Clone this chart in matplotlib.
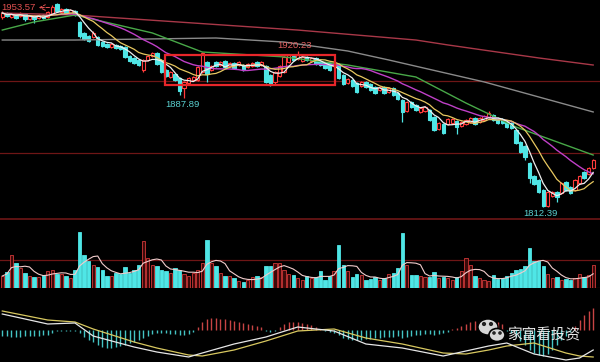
import numpy as np
import pandas as pd
import matplotlib
matplotlib.use("Agg")
import matplotlib.pyplot as plt
from matplotlib.patches import Rectangle, Ellipse, Circle

plt.rcParams["font.family"] = ["Liberation Sans", "DejaVu Sans"]

# ============ Data ============
opens = [1943.8, 1946.6, 1943.8, 1945.9, 1944.5, 1945.9, 1942.5, 1944.5, 1943.1, 1945.2,
         1943.8, 1945.9, 1952.8, 1947.3, 1949.4, 1946.6, 1948.0, 1940.4, 1932.8, 1930.7,
         1930.0, 1930.0, 1926.5, 1925.2, 1923.1, 1924.5, 1923.8, 1923.1, 1916.8, 1915.5,
         1914.1, 1907.2, 1914.1, 1916.8, 1918.9, 1914.1, 1907.2, 1902.3, 1904.4, 1901.6,
         1894.7, 1898.2, 1900.2, 1900.2, 1905.8, 1912.7, 1907.2, 1912.7, 1910.6, 1913.4,
         1909.9, 1912.0, 1910.6, 1910.6, 1909.2, 1909.9, 1912.7, 1910.6, 1909.9, 1903.7,
         1898.9, 1903.0, 1905.8, 1912.7, 1916.8, 1914.8, 1913.4, 1916.2, 1913.4, 1915.5,
         1913.4, 1912.0, 1912.0, 1909.9, 1911.3, 1903.7, 1898.2, 1900.2, 1898.2, 1896.1,
         1898.9, 1897.5, 1895.4, 1893.3, 1895.4, 1891.9, 1894.7, 1891.2, 1886.4, 1878.8,
         1885.0, 1883.0, 1878.1, 1878.8, 1879.5, 1874.6, 1866.3, 1869.8, 1869.8, 1870.5,
         1871.9, 1868.4, 1869.8, 1871.2, 1873.9, 1871.2, 1872.6, 1874.6, 1876.0, 1873.9,
         1873.3, 1871.2, 1870.5, 1865.7, 1857.3, 1854.6, 1842.8, 1833.8, 1831.0, 1824.1,
         1813.0, 1820.0, 1822.7, 1822.0, 1829.7, 1826.2, 1824.1, 1829.0, 1836.6, 1835.2,
         1839.3]
closes = [1946.6, 1944.5, 1945.9, 1943.1, 1946.6, 1942.5, 1944.5, 1942.5, 1945.2, 1943.1,
          1947.3, 1950.8, 1948.0, 1949.4, 1946.6, 1948.7, 1945.2, 1930.7, 1928.6, 1927.2,
          1932.8, 1924.5, 1923.8, 1923.1, 1925.2, 1922.4, 1921.7, 1916.2, 1913.4, 1912.0,
          1910.6, 1914.1, 1916.8, 1919.0, 1911.3, 1905.8, 1903.0, 1905.8, 1900.2, 1892.6,
          1898.9, 1901.6, 1902.3, 1909.2, 1918.9, 1904.4, 1909.9, 1909.9, 1912.7, 1909.2,
          1912.0, 1908.5, 1912.7, 1907.2, 1911.3, 1912.0, 1909.9, 1912.7, 1898.9, 1897.5,
          1905.8, 1909.9, 1916.2, 1917.5, 1914.1, 1917.5, 1916.2, 1914.1, 1915.5, 1911.3,
          1910.6, 1908.5, 1907.2, 1912.0, 1901.6, 1897.5, 1900.9, 1896.1, 1891.9, 1898.9,
          1895.4, 1893.3, 1891.2, 1895.4, 1891.2, 1894.7, 1889.9, 1887.1, 1878.1, 1885.0,
          1881.6, 1879.5, 1880.9, 1881.6, 1872.6, 1865.7, 1870.5, 1863.6, 1873.3, 1873.3,
          1867.7, 1871.2, 1872.6, 1873.9, 1869.8, 1873.9, 1875.3, 1877.4, 1872.6, 1870.5,
          1870.5, 1867.7, 1867.0, 1856.6, 1850.4, 1847.0, 1832.4, 1828.3, 1822.7, 1813.0,
          1822.7, 1822.7, 1819.3, 1829.0, 1824.1, 1822.0, 1831.0, 1833.8, 1832.4, 1839.3,
          1844.9]
highs = [1948.0, 1947.3, 1946.6, 1946.6, 1947.3, 1946.6, 1945.2, 1945.2, 1945.9, 1945.9,
         1948.0, 1952.1, 1953.57, 1950.1, 1950.1, 1949.4, 1948.7, 1941.1, 1933.5, 1931.4,
         1934.2, 1930.7, 1927.2, 1925.8, 1925.8, 1925.2, 1924.5, 1923.8, 1917.5, 1916.2,
         1914.8, 1914.8, 1917.5, 1919.6, 1919.6, 1914.8, 1907.9, 1906.5, 1905.1, 1902.3,
         1899.5, 1902.3, 1903.0, 1909.9, 1919.6, 1913.4, 1910.6, 1913.4, 1913.4, 1914.1,
         1912.7, 1912.7, 1913.4, 1911.3, 1912.0, 1912.7, 1913.4, 1913.4, 1910.6, 1904.4,
         1906.5, 1910.6, 1916.8, 1918.2, 1917.5, 1920.23, 1916.8, 1916.8, 1916.2, 1916.2,
         1914.1, 1912.7, 1912.7, 1912.7, 1912.0, 1904.4, 1901.6, 1900.9, 1898.9, 1899.5,
         1899.5, 1898.2, 1896.1, 1896.1, 1896.1, 1895.4, 1895.4, 1891.9, 1887.1, 1885.7,
         1885.7, 1883.7, 1881.6, 1882.3, 1880.2, 1875.3, 1871.2, 1870.5, 1874.0, 1874.0,
         1872.6, 1871.9, 1873.3, 1874.6, 1874.6, 1874.6, 1876.0, 1878.8, 1876.7, 1874.6,
         1874.0, 1871.9, 1871.2, 1866.3, 1858.0, 1855.3, 1843.5, 1834.5, 1831.7, 1824.8,
         1823.4, 1823.4, 1823.4, 1829.7, 1830.4, 1826.9, 1831.7, 1834.5, 1837.3, 1840.0,
         1845.6]
lows = [1942.5, 1943.8, 1943.1, 1942.5, 1943.8, 1941.1, 1941.8, 1939.7, 1942.5, 1942.5,
        1943.1, 1945.2, 1947.3, 1946.6, 1945.9, 1945.9, 1944.5, 1929.3, 1927.9, 1926.5,
        1929.3, 1923.8, 1923.1, 1922.4, 1922.4, 1921.7, 1921.0, 1915.5, 1912.7, 1911.3,
        1909.9, 1905.8, 1913.4, 1916.2, 1910.6, 1905.1, 1902.3, 1901.6, 1899.5, 1889.9,
        1887.89, 1897.5, 1899.5, 1899.5, 1905.1, 1898.9, 1906.5, 1909.2, 1909.9, 1908.5,
        1909.2, 1907.9, 1909.9, 1906.5, 1908.5, 1909.2, 1909.2, 1909.9, 1898.2, 1896.1,
        1897.5, 1902.3, 1905.1, 1912.0, 1913.4, 1914.1, 1912.7, 1913.4, 1912.7, 1910.6,
        1909.9, 1907.9, 1906.5, 1909.2, 1900.9, 1896.8, 1897.5, 1895.4, 1891.2, 1895.4,
        1894.7, 1892.6, 1890.6, 1892.6, 1890.6, 1891.2, 1889.2, 1886.4, 1871.2, 1878.1,
        1880.9, 1878.8, 1877.4, 1878.1, 1871.9, 1865.0, 1865.7, 1862.9, 1869.1, 1869.8,
        1862.9, 1867.7, 1869.1, 1870.5, 1869.1, 1870.5, 1871.9, 1873.9, 1871.9, 1869.8,
        1869.8, 1867.0, 1866.3, 1855.9, 1849.7, 1844.9, 1829.0, 1827.6, 1822.0, 1812.39,
        1812.4, 1819.3, 1815.8, 1821.3, 1823.4, 1821.3, 1823.4, 1828.3, 1831.7, 1834.5,
        1838.6]
volume = [12, 16, 33, 25, 20, 15, 12, 11, 11, 13, 17, 18, 14, 14, 12, 10, 18, 56, 33, 27,
          23, 21, 18, 12, 12, 15, 14, 21, 15, 18, 23, 47, 30, 23, 22, 18, 17, 15, 20, 18,
          14, 12, 15, 18, 25, 48, 25, 22, 15, 12, 12, 10, 7, 6, 8, 11, 12, 11, 22, 22,
          25, 25, 18, 14, 13, 10, 8, 12, 10, 11, 17, 8, 12, 17, 43, 23, 17, 11, 14, 13,
          8, 9, 11, 8, 10, 14, 15, 20, 55, 23, 13, 13, 12, 11, 11, 16, 10, 11, 10, 8,
          11, 17, 30, 23, 12, 10, 8, 7, 13, 9, 10, 12, 15, 18, 19, 22, 40, 27, 27, 22,
          14, 10, 11, 8, 9, 8, 10, 14, 11, 13, 23]
macd_hist = [-6, -6, -7, -7, -7, -6, -6, -6, -6, -5, -5,
             -3, -1, -1, -1, -1, -1,
             -3, -7, -10, -12, -15, -17, -18, -18, -17, -16, -15, -13, -12, -10, -8,
             -6, -4, -3, -3, -3, -4, -4, -5, -5, -4, -2,
             3, 8, 11, 12, 12, 11, 11, 10, 9, 8, 7, 6, 5, 4, 3,
             -1, -2, -1,
             3, 6, 8, 8, 8, 7, 6, 5,
             3, 1, -1, -2, -3,
             -5, -8, -9, -10, -10, -10, -9, -9, -8, -8, -7, -7, -7, -6, -8, -7, -6, -5, -5,
             -4, -4, -5, -4, -3, -2,
             1, 2, 4, 6, 8, 9, 9, 9, 10, 9, 8, 6,
             -1, -3, -7, -11, -15, -20, -23, -25, -26, -24, -20,
             -15, -10, -6, -2, 4,
             10, 15, 19, 22]
macd_x = [0, 10, 16, 20, 29, 34, 41, 44, 51, 58, 65, 73, 80, 88, 97, 102, 107, 111, 117, 124, 127, 130]
dif = [16, 6, 7, -6, -17, -22, -27, -23, -14, -7, 3, -1, -14, -18, -26, -21, -16, -13, -24, -30, -28, -20]
dea = [19, 10, 8, 1, -12, -18, -25, -26, -20, -11, -1, 1, -8, -14, -23, -24, -20, -16, -13, -23, -26, -27]

ma30_x = [0, 7, 16, 33, 44, 62, 76, 91, 102, 113, 130]
ma30 = [1934.8, 1940.4, 1945.2, 1932.8, 1919.6, 1916.2, 1910.6, 1902.3, 1884.3, 1867.7, 1848.3]
ma120_x = [0, 16, 32, 47, 62, 76, 85, 106, 130]
ma120 = [1927.9, 1927.9, 1928.6, 1929.3, 1926.5, 1920.3, 1914.1, 1898.9, 1878.1]
ma250_x = [0, 16, 32, 65, 91, 98, 118, 130]
ma250 = [1946.6, 1945.2, 1941.8, 1934.8, 1927.9, 1924.5, 1915.5, 1910.6]

RED = "#ff3c3c"
CYAN = "#4fe6e6"
GRID = "#6e1616"

n = len(closes)
idx = np.arange(n)
o = np.array(opens); c = np.array(closes)
up = c >= o

fig = plt.figure(figsize=(6, 3.62), dpi=100, facecolor="black")
H = 362.0
def band(top, bottom):
    return [0, 1 - bottom / H, 1, (bottom - top) / H]
ax = fig.add_axes(band(0, 218))
axv = fig.add_axes(band(218, 288))
axm = fig.add_axes(band(288, 362))
for a in (ax, axv, axm):
    a.set_facecolor("black"); a.set_axis_off(); a.set_xlim(-0.5, n + 0.5)

# ============ Price panel ============
ax.set_ylim(1804.7, 1955.6)
for lvl in (1899.5, 1849.7):
    ax.axhline(lvl, color=GRID, lw=0.9, zorder=1)
ccol = np.where(up, RED, CYAN)
ax.vlines(idx, lows, highs, colors=ccol, lw=0.9, zorder=2)
body_lo = np.minimum(o, c)
body_h = np.maximum(np.abs(c - o), 0.3)
ax.bar(idx, body_h, bottom=body_lo, width=0.74,
       color=np.where(up, "black", CYAN), edgecolor=ccol, lw=0.8, zorder=3)

s = pd.Series(closes)
ax.plot(ma250_x, ma250, color="#a83848", lw=1.0, zorder=4)
ax.plot(ma120_x, ma120, color="#8a8a8a", lw=1.0, zorder=4)
ax.plot(ma30_x, ma30, color="#48a848", lw=1.0, zorder=4)
ax.plot(idx, s.rolling(20, min_periods=1).mean(), color="#c040c8", lw=1.0, zorder=4)
ax.plot(idx, s.rolling(10, min_periods=1).mean(), color="#e8c860", lw=0.9, zorder=4)
ax.plot(idx, s.rolling(5, min_periods=1).mean(), color="#eeeeee", lw=0.9, zorder=4)

ax.add_patch(Rectangle((35.8, 1896.8), 37.4, 20.7, fill=False, ec="#e8262a", lw=1.6, zorder=6))

ax.text(-0.3, 1950.4, "1953.57", color="#e05050", fontsize=6.8, va="center", ha="left", zorder=7)
ax.annotate("", xy=(7.4, 1950.4), xytext=(11.0, 1950.4),
            arrowprops=dict(arrowstyle="->", color="#e05050", lw=0.7, linestyle="--"), zorder=7)
ax.text(64.4, 1924.1, "1920.23", color="#e06060", fontsize=6.8, va="center", ha="center", zorder=7)
ax.text(39.6, 1883.6, "1887.89", color="#5ad0d0", fontsize=6.8, va="center", ha="center", zorder=7)
ax.text(118.3, 1807.5, "1812.39", color="#5ad0d0", fontsize=6.8, va="center", ha="center", zorder=7)

# ============ Volume panel ============
axv.set_ylim(0, 70)
axv.axhline(69.5, color=GRID, lw=1.2)
axv.axhline(28, color=GRID, lw=0.9)
axv.axhline(0.3, color=GRID, lw=0.9)
axv.bar(idx, volume, width=0.74, color=np.where(up, "#3c0a0a", CYAN),
        edgecolor=np.where(up, "#d03838", CYAN), lw=0.6, zorder=2)
axv.plot(idx, pd.Series(volume).rolling(5, min_periods=1).mean(), color="#f2cccc", lw=0.8, zorder=3)

# ============ MACD panel ============
axm.set_ylim(-32, 42)
hist = np.array(macd_hist)
axm.vlines(idx, 0, hist, colors=np.where(hist >= 0, "#c84444", "#44c4c4"), lw=1.0, zorder=2)
axm.plot(macd_x, dea, color="#d8c860", lw=0.9, zorder=3)
axm.plot(macd_x, dif, color="#e6e6e6", lw=0.9, zorder=3)

# ============ Watermark ============
ia = fig.add_axes([476 / 600, 1 - 346 / H, 30 / 600, 30 / H])
ia.set_axis_off(); ia.set_xlim(0, 30); ia.set_ylim(30, 0)
ia.add_patch(Ellipse((12, 11), 20, 16, color="#d6d6d6", ec="black", lw=1.0))
ia.add_patch(Ellipse((21, 19), 16, 13, color="#d6d6d6", ec="black", lw=1.2))
for cx, cy, r in [(8, 8, 1.4), (15, 8, 1.4), (18, 17, 1.1), (24, 17, 1.1)]:
    ia.add_patch(Circle((cx, cy), r, color="#222222"))
fig.text(507 / 600, 1 - 335 / H, "家富看投资", color="#e8e8e8", fontsize=10.5, va="center",
         ha="left", family=["Noto Sans CJK SC", "DejaVu Sans"])

fig.savefig("out.png", dpi=100, facecolor="black")
